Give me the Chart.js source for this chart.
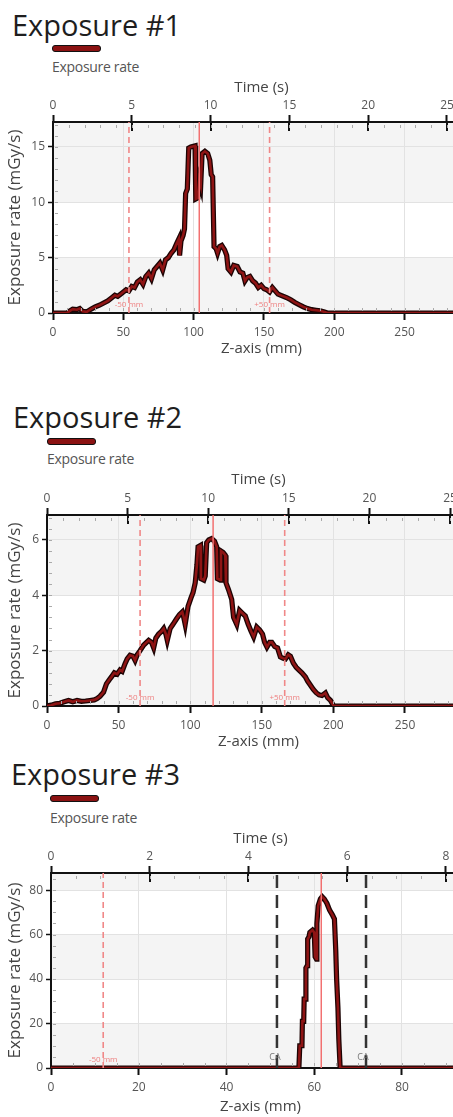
<!DOCTYPE html>
<html lang="en">
<head>
    <meta charset="UTF-8">
    <title>Exposure rate profiles</title>
    <script src="https://cdn.jsdelivr.net/npm/chart.js"></script>
    <style>
        body {
            margin: 0;
            width: 453px;
            height: 1117px;
            overflow: hidden;
            position: relative;
            background: #fff;
            font-family: "Open Sans", sans-serif;
        }
        .title {
            position: absolute;
            font-size: 29px;
            line-height: 29px;
            color: #1e1e1e;
            white-space: nowrap;
        }
        .swatch {
            position: absolute;
            width: 47px;
            height: 5px;
            background: #8b1212;
            border: 1.5px solid #111;
            border-radius: 3px;
        }
        .legend {
            position: absolute;
            font-size: 14px;
            line-height: 14px;
            color: #555;
            letter-spacing: -0.3px;
            white-space: nowrap;
        }
        canvas {
            position: absolute;
            left: 0;
        }
    </style>
</head>
<body>
    <!-- Exposure #1 -->
    <div class="title" style="left:12px; top:10px">Exposure #1</div>
    <div class="swatch" style="left:52px; top:45px"></div>
    <div class="legend" style="left:52px; top:60px">Exposure rate</div>
    <canvas id="chart1" width="470" height="280" style="top:78px"></canvas>

    <!-- Exposure #2 -->
    <div class="title" style="left:13px; top:402px">Exposure #2</div>
    <div class="swatch" style="left:47px; top:438px"></div>
    <div class="legend" style="left:47px; top:452px">Exposure rate</div>
    <canvas id="chart2" width="470" height="281" style="top:470px"></canvas>

    <!-- Exposure #3 -->
    <div class="title" style="left:11px; top:759px">Exposure #3</div>
    <div class="swatch" style="left:50px; top:795px"></div>
    <div class="legend" style="left:50px; top:811px">Exposure rate</div>
    <canvas id="chart3" width="470" height="287" style="top:829px"></canvas>

    <script>
        // Exposure #1 : z position (mm) and exposure rate (mGy/s)
        const z1 = [0, 10, 12, 14, 17, 19, 21, 24, 27, 30,
            33, 36, 39, 42, 44, 46, 48, 50, 52, 54,
            56, 58, 60, 62, 64, 66, 68, 70, 72, 74,
            76, 78, 80, 82, 84, 86, 88, 89.5, 90, 91,
            92.5, 93.5, 94.3, 95.5, 96.5, 98, 101, 101.5, 103, 104,
            105, 106, 108, 110, 111.5, 112.5, 113.5, 114.5, 116, 117,
            118.5, 120, 122, 123.5, 124.5, 126.5, 128.5, 131, 133, 135,
            136.5, 138, 140, 142, 144, 146, 148, 150, 152, 154,
            156, 158, 160, 163, 166, 169, 172, 175, 178, 181,
            184, 187, 190, 193, 195, 298];
        const rate1 = [0, 0, 0.2, 0.35, 0.3, 0.4, 0.15, 0.1, 0.35, 0.55,
            0.7, 0.9, 1.1, 1.4, 1.6, 1.5, 1.7, 1.9, 2.1, 2.0,
            2.4, 2.3, 2.8, 3.0, 2.6, 3.3, 3.6, 3.1, 3.9, 4.2,
            4.5, 3.9, 4.8, 5.0, 5.4, 5.7, 6.3, 6.7, 5.2, 6.5,
            7.0, 7.6, 10.8, 11.2, 14.9, 15.0, 15.1, 10.3, 10.4, 12.0,
            11.5, 14.4, 14.6, 14.4, 13.8, 12.5, 12.3, 6.0, 5.8, 5.4,
            6.0, 6.1, 5.7, 5.2, 4.0, 3.7, 4.3, 4.2, 3.7, 3.6,
            2.9, 3.2, 3.3, 2.9, 2.7, 2.3, 2.5, 2.2, 2.1, 1.9,
            2.3, 2.0, 1.7, 1.55, 1.4, 1.2, 0.95, 0.75, 0.55, 0.4,
            0.3, 0.25, 0.2, 0.1, 0, 0];

        // Exposure #2
        const z2 = [0, 3, 6, 9, 12, 15, 18, 21, 24, 27,
            30, 33, 35, 37, 39.5, 41.5, 43.5, 45, 47, 49,
            51, 52.5, 54.5, 56, 58, 60, 61.5, 63, 65, 67.5,
            69.5, 71, 73, 74.5, 76, 78, 80, 81.5, 83, 84,
            86, 88, 90.5, 92.5, 94.5, 95.5, 96.5, 98.5, 100.5, 102,
            103.5, 104.7, 105.5, 107.2, 107.5, 109.5, 110.5, 111.5, 113, 115,
            117, 118.5, 119, 121, 121.5, 123, 124.5, 125, 126.8, 129,
            130.3, 132.5, 134.5, 136.5, 138.5, 140.5, 142.5, 144.3, 146.5, 148.5,
            150.5, 152, 153.6, 155.5, 157, 159, 161, 163, 165, 166.5,
            168.5, 170, 172, 174, 176, 178, 180.5, 182, 184, 186,
            188, 190, 192, 194.4, 196, 198, 200.2, 296];
        const rate2 = [0, 0.03, 0.08, 0.1, 0.15, 0.2, 0.15, 0.2, 0.17, 0.18,
            0.2, 0.22, 0.27, 0.35, 0.5, 0.8, 0.95, 1.05, 1.2, 1.15,
            1.3, 1.25, 1.53, 1.7, 1.83, 1.8, 1.65, 1.85, 2.0, 2.2,
            2.3, 2.37, 2.3, 2.1, 2.45, 2.6, 2.7, 2.8, 2.6, 2.37,
            2.8, 2.95, 3.15, 3.3, 3.4, 3.2, 2.95, 3.6, 3.9, 4.1,
            4.45, 5.1, 5.75, 5.8, 4.6, 4.55, 4.7, 5.9, 6.0, 6.05,
            5.95, 5.75, 4.6, 4.55, 5.6, 5.55, 5.45, 4.45, 4.2, 3.85,
            3.2, 2.95, 3.45, 3.35, 3.25, 2.95, 2.7, 2.5, 2.85, 2.75,
            2.6, 2.3, 2.13, 2.3, 2.3, 2.15, 2.1, 1.77, 1.72, 1.7,
            1.85, 1.8, 1.55, 1.4, 1.3, 1.2, 1.05, 0.9, 0.75, 0.6,
            0.48, 0.4, 0.38, 0.47, 0.3, 0.2, 0, 0];

        // Exposure #3
        const z3 = [0, 56.5, 56.7, 57.2, 57.3, 57.6, 57.7, 58.0, 58.1, 58.4,
            58.5, 58.8, 59.0, 59.6, 60.0, 60.2, 60.5, 60.6, 60.9, 61.4,
            61.8, 62.3, 62.9, 63.5, 64.1, 64.6, 64.9, 65.1, 65.4, 65.6,
            65.9, 95];
        const rate3 = [0, 0, 10, 10, 21, 21, 31, 31, 45, 46,
            58, 59, 61, 62, 61, 50, 49, 65, 73, 76,
            77, 76, 74, 71, 69, 67, 53, 40, 27, 13,
            0, 0];

        // reference lines (z in mm): -50 mm, centre, +50 mm, collimation
        const limits1 = [54, 154], centre1 = 104;
        const limits2 = [65, 166], centre2 = 116;
        const limits3 = [11.9], centre3 = 61.6, collim3 = [51.5, 71.8];
        const limitLabels = ['-50 mm', '+50 mm'];

        Chart.defaults.font.family = '"Open Sans", sans-serif';
        Chart.defaults.color = '#555';

        // background bands, minor ticks, marker labels
        const decor = {
            id: 'decor',
            beforeDraw(chart) {
                const {ctx, chartArea: a, scales: {y}} = chart;
                ctx.save();
                ctx.fillStyle = '#f4f4f4';
                ctx.fillRect(a.left, a.top, a.right - a.left, a.bottom - a.top);
                ctx.fillStyle = '#ffffff';
                const t = y.ticks.map(k => k.value);
                for (let i = 1; i + 1 < t.length; i += 2) {
                    const top = y.getPixelForValue(t[i + 1]);
                    const bot = y.getPixelForValue(t[i]);
                    ctx.fillRect(a.left, top, a.right - a.left, bot - top);
                }
                ctx.restore();
            },
            afterDatasetsDraw(chart, args, o) {
                const {ctx, chartArea: a, scales: {x}} = chart;
                ctx.save();
                ctx.textAlign = 'center';
                (o.labels || []).forEach(l => {
                    ctx.fillStyle = l.color;
                    ctx.font = l.size + 'px "Open Sans", sans-serif';
                    ctx.fillText(l.text, x.getPixelForValue(l.z) + (l.dx || 0), a.bottom - (l.dy || 6));
                });
                ctx.restore();
            },
            afterDraw(chart, args, o) {
                const {ctx, chartArea: a, scales: {x, x2, y}} = chart;
                ctx.save();
                // major ticks of the time axis crossing into the plot
                ctx.strokeStyle = '#111';
                ctx.lineWidth = 2;
                x2.ticks.forEach(k => {
                    const px = Math.round(x2.getPixelForValue(k.value));
                    ctx.beginPath();
                    ctx.moveTo(px, a.top);
                    ctx.lineTo(px, a.top + 9);
                    ctx.stroke();
                });
                // minor ticks
                ctx.strokeStyle = '#aaa';
                ctx.lineWidth = 1;
                for (let v = o.tMinor; v < x2.max; v += o.tMinor) {
                    const px = Math.round(x2.getPixelForValue(v)) + 0.5;
                    ctx.beginPath();
                    ctx.moveTo(px, a.top + 3);
                    ctx.lineTo(px, a.top + 6);
                    ctx.stroke();
                }
                for (let v = o.zMinor; v < x.max; v += o.zMinor) {
                    const px = Math.round(x.getPixelForValue(v)) + 0.5;
                    ctx.beginPath();
                    ctx.moveTo(px, a.bottom - 5);
                    ctx.lineTo(px, a.bottom - 2);
                    ctx.stroke();
                }
                for (let v = o.yMinor; v < y.max; v += o.yMinor) {
                    const py = Math.round(y.getPixelForValue(v)) + 0.5;
                    ctx.beginPath();
                    ctx.moveTo(a.left + 2, py);
                    ctx.lineTo(a.left + 5, py);
                    ctx.stroke();
                }
                ctx.restore();
            }
        };

        function vline(z, yMax, color, width, dash) {
            return {
                data: [{x: z, y: 0}, {x: z, y: yMax}],
                borderColor: color,
                borderWidth: width,
                borderDash: dash,
                pointRadius: 0,
                order: 0
            };
        }

        function buildChart(id, p) {
            const pts = p.z.map((v, i) => ({x: v, y: p.rate[i]}));
            const datasets = [
                {data: pts, borderColor: '#8e1414', borderWidth: 2.6, pointRadius: 0, order: 1},
                {data: pts, borderColor: '#1c0404', borderWidth: 5.2, pointRadius: 0, order: 2}
            ];
            datasets.push(vline(p.centre, p.yMax, '#f27070', 1.5, []));
            p.limits.forEach(z => datasets.push(vline(z, p.yMax, '#f08888', 1.6, [6, 4])));
            (p.collim || []).forEach(z => datasets.push(vline(z, p.yMax, '#333', 2.5, [13, 7])));

            const tickFont = {size: 12};
            return new Chart(document.getElementById(id), {
                type: 'line',
                data: {datasets: datasets},
                plugins: [decor],
                options: {
                    responsive: false,
                    animation: false,
                    layout: {padding: 0},
                    plugins: {
                        legend: {display: false},
                        tooltip: {enabled: false},
                        decor: {labels: p.labels, tMinor: p.tMinor, zMinor: p.zMinor, yMinor: p.yMinor}
                    },
                    scales: {
                        x: {
                            type: 'linear', position: 'bottom', min: 0, max: p.zMax,
                            afterFit: s => { s.height = p.bottomH; },
                            ticks: {stepSize: p.zStep, includeBounds: false, padding: 5, font: tickFont, maxRotation: 0},
                            grid: {color: '#e2e2e2', tickLength: 7, tickColor: '#111', tickWidth: 2},
                            border: {color: '#111', width: 2},
                            title: {display: true, text: 'Z-axis (mm)', color: '#444', font: {size: 15}, padding: {top: 0, bottom: 0}}
                        },
                        x2: {
                            type: 'linear', axis: 'x', position: 'top', min: 0, max: p.tMax,
                            afterFit: s => { s.height = p.topH; },
                            ticks: {stepSize: p.tStep, includeBounds: false, padding: 2, font: tickFont, maxRotation: 0},
                            grid: {drawOnChartArea: false, tickLength: 7, tickColor: '#111', tickWidth: 2},
                            border: {color: '#111', width: 2},
                            title: {display: true, text: 'Time (s)', color: '#444', font: {size: 15}, padding: {top: 1, bottom: 0}}
                        },
                        y: {
                            type: 'linear', min: 0, max: p.yMax,
                            afterFit: s => { s.width = p.left; },
                            ticks: {stepSize: p.yStep, includeBounds: false, padding: 3, font: tickFont},
                            grid: {color: '#e2e2e2', tickLength: 5, tickColor: '#111', tickWidth: 1.5},
                            border: {color: '#111', width: 2},
                            title: {display: true, text: 'Exposure rate (mGy/s)', color: '#444', font: {size: 17}, padding: {top: 5, bottom: 0}}
                        }
                    }
                }
            });
        }

        buildChart('chart1', {
            z: z1, rate: rate1, limits: limits1, centre: centre1,
            left: 53, topH: 44, bottomH: 45,
            zMax: 296.5, zStep: 50, zMinor: 10,
            tMax: 26.46, tStep: 5, tMinor: 1,
            yMax: 17.25, yStep: 5, yMinor: 1,
            labels: [
                {z: limits1[0], text: limitLabels[0], color: '#ee8080', size: 8},
                {z: limits1[1], text: limitLabels[1], color: '#ee8080', size: 8}
            ]
        });

        buildChart('chart2', {
            z: z2, rate: rate2, limits: limits2, centre: centre2,
            left: 47, topH: 45, bottomH: 45,
            zMax: 295.4, zStep: 50, zMinor: 10,
            tMax: 26.24, tStep: 5, tMinor: 1,
            yMax: 6.9, yStep: 2, yMinor: 0.4,
            labels: [
                {z: limits2[0], text: limitLabels[0], color: '#ee8080', size: 8},
                {z: limits2[1], text: limitLabels[1], color: '#ee8080', size: 8}
            ]
        });

        buildChart('chart3', {
            z: z3, rate: rate3, limits: limits3, centre: centre3, collim: collim3,
            left: 51, topH: 44, bottomH: 48,
            zMax: 95.5, zStep: 20, zMinor: 5,
            tMax: 8.49, tStep: 2, tMinor: 0.5,
            yMax: 87.7, yStep: 20, yMinor: 5,
            labels: [
                {z: limits3[0], text: limitLabels[0], color: '#ee8080', size: 8},
                {z: collim3[0], text: 'CA', color: '#777', size: 9, dx: -2, dy: 8},
                {z: collim3[1], text: 'CA', color: '#777', size: 9, dx: -3, dy: 8}
            ]
        });
    </script>
</body>
</html>
